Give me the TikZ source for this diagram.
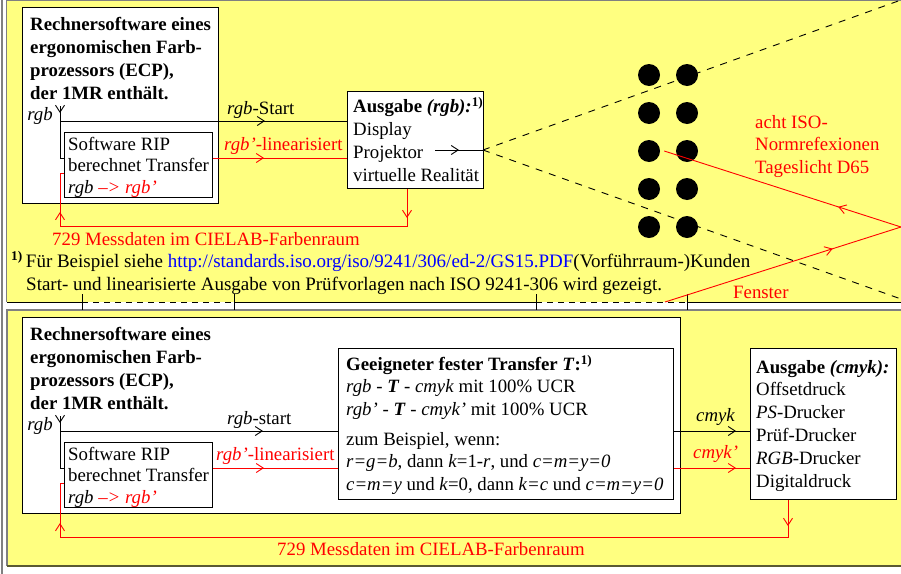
\documentclass[tikz,border=0pt]{standalone}
\usepackage{fontspec}
\setmainfont{Liberation Serif}
\usetikzlibrary{arrows.meta,decorations.markings}
\definecolor{panelyellow}{RGB}{255,255,128}
\definecolor{framegray}{RGB}{128,128,128}
\definecolor{shadeolive}{RGB}{90,90,50}
\definecolor{linkblue}{RGB}{0,0,255}
\newcommand{\fsz}[1]{\fontsize{18.8}{#1}\selectfont}
\begin{document}
\begin{tikzpicture}[x=1pt,y=-1pt,
    box/.style={draw,fill=white,line width=1pt,inner sep=0pt,anchor=north west},
    txt/.style={inner sep=0pt,anchor=base west,align=left,font=\fsz{23}},
    dot/.style={circle,fill,inner sep=0pt,minimum size=22pt},
    barb/.style={line width=0.9pt},
    midtip/.style={barb,postaction={decorate},decoration={markings,
        mark=at position #1 with {\arrow{Straight Barb[length=7pt,width=9pt]}}}},
    duotip/.style 2 args={barb,postaction={decorate},decoration={markings,
        mark=at position #1 with {\arrow{Straight Barb[length=7pt,width=9pt]}},
        mark=at position #2 with {\arrow{Straight Barb[length=7pt,width=9pt]}}}}]
    \useasboundingbox (0,0) rectangle (901,573);
    \fill[white] (0,0) rectangle (901,573);
    \fill[panelyellow] (7,0) rectangle (906,302);
    \fill[panelyellow] (7,310) rectangle (906,566);
    \draw[framegray,line width=1.5pt] (2,-2) -- (2,575);
    \draw[framegray,line width=1.2pt] (906,0.6) -- (6.5,0.6) -- (6.5,302);
    \draw[framegray,line width=1.2pt] (906,310) -- (7,310) -- (7,566);
    \draw[shadeolive,line width=1.5pt] (7,566) -- (906,566);
    % panel edge with two windows
    \draw[line width=1pt] (7,302) -- (82,302) (234,302) -- (536,302) (687,302) -- (906,302);
    \draw[line width=1pt,dashed,dash pattern=on 6pt off 5pt] (82,302) -- (234,302) (536,302) -- (687,302);
    \foreach \x in {82,234,536,687}
        \draw[line width=1pt] (\x,294) -- (\x,310);
    % upper part
    \node[box,minimum width=196pt,minimum height=196pt] (ecpA) at (22,7) {};
    \node[txt,font=\fsz{23}\bfseries] (ecpAtxt) at (30,99) {Rechnersoftware eines\\ergonomischen Farb-\\prozessors (ECP),\\der 1MR enthält.};
    \node[box,minimum width=148pt,minimum height=65pt] (ripA) at (64,132) {};
    \node[txt,font=\fsz{21.5}] (ripAtxt) at (68,193) {Software RIP\\berechnet Transfer\\\textit{rgb \textcolor{red}{–> rgb’}}};
    \node[box,minimum width=136pt,minimum height=97pt] (outA) at (347,91) {};
    \node[txt,font=\fsz{22.7}] (outAtxt) at (353,181) {\textbf{Ausgabe \textit{(rgb):}}\textsuperscript{\bfseries 1)}\\Display\\Projektor\\virtuelle Realität};
    \node[txt,anchor=base east,font=\fsz{23}\itshape] (rgbA) at (53,120) {rgb};
    \node[txt] (startA) at (227,114) {\textit{rgb}-Start};
    \node[txt,text=red] (linA) at (224,150) {\textit{rgb’}-linearisiert};
    \node[txt,text=red] (cielabA) at (52,245) {729 Messdaten im CIELAB-Farbenraum};
    \coordinate (inA) at (60,106);
    \coordinate (brA) at (60,121);
    \coordinate (fbA) at (60,226);
    \draw[midtip=7pt] (inA) |- ([yshift=-26pt]ripA.north west);
    \draw[midtip=205pt] (brA) -- ([yshift=-30pt]outA.north west);
    \draw[red,midtip=51pt] ([yshift=-26pt]ripA.north east) -- ([yshift=-67pt]outA.north west);
    \draw[red,duotip={29pt}{398pt}] ([xshift=60pt]outA.south west) |- (fbA) |- ([yshift=-41pt]ripA.north west);
    \coordinate (pjA) at (435,150);
    \coordinate (view) at (483,150);
    \draw[midtip=24pt] (pjA) -- (view);
    \draw[line width=0.9pt,dash pattern=on 7pt off 7pt] (view) -- (901,0);
    \draw[line width=0.9pt,dash pattern=on 7pt off 7pt] (view) -- (901,299);
    \foreach \r/\y in {1/75,2/113,3/151,4/189,5/227} {
        \node[dot] (dotL\r) at (649,\y) {};
        \node[dot] (dotR\r) at (687,\y) {};
    }
    \coordinate (winpt) at (665,302);
    \coordinate (refl) at (901,227);
    \draw[red,midtip=176pt] (winpt) -- (refl);
    \draw[red,midtip=66pt] (refl) -- ([xshift=4pt]dotL3.east);
    \node[txt,text=red,font=\fsz{22.5}] (isoTxt) at (755,173) {acht ISO-\\Normrefexionen\\Tageslicht D65};
    \node[txt,text=red] (fenster) at (733,298) {Fenster};
    \node[txt,font=\fontsize{19}{23}\selectfont] (noteA) at (11,267) {\textsuperscript{\bfseries 1)}\,Für Beispiel siehe \textcolor{linkblue}{http://standards.iso.org/iso/9241/306/ed-2/GS15.PDF}(Vorführraum-)Kunden};
    \node[txt,font=\fontsize{19}{23}\selectfont] (noteB) at (26,290) {Start- und linearisierte Ausgabe von Prüfvorlagen nach ISO 9241-306 wird gezeigt.};
    % lower part
    \node[box,minimum width=658pt,minimum height=196pt] (ecpB) at (22,317) {};
    \node[txt,font=\fsz{23}\bfseries] (ecpBtxt) at (30,409) {Rechnersoftware eines\\ergonomischen Farb-\\prozessors (ECP),\\der 1MR enthält.};
    \node[box,minimum width=148pt,minimum height=65pt] (ripB) at (64,442) {};
    \node[txt,font=\fsz{21.5}] (ripBtxt) at (68,503) {Software RIP\\berechnet Transfer\\\textit{rgb \textcolor{red}{–> rgb’}}};
    \node[box,minimum width=335pt,minimum height=151pt] (trans) at (338,348) {};
    \node[txt,font=\fsz{22.3}] (transtxt) at (346,490) {\textbf{Geeigneter fester Transfer \textit{T}:}\textsuperscript{\bfseries 1)}\\
        \textit{rgb} - \textbf{\textit{T}} - \textit{cmyk} mit 100\% UCR\\
        \textit{rgb’} - \textbf{\textit{T}} - \textit{cmyk’} mit 100\% UCR\\[8pt]
        zum Beispiel, wenn:\\
        \textit{r=g=b}, dann \textit{k}=1-\textit{r}, und \textit{c=m=y=0}\\
        \textit{c=m=y} und \textit{k}=0, dann \textit{k=c} und \textit{c=m=y=0}};
    \node[box,minimum width=146pt,minimum height=151pt] (outC) at (750,348) {};
    \node[txt,font=\fsz{22.8}] (outCtxt) at (756,487) {\textbf{Ausgabe \textit{(cmyk):}}\\Offsetdruck\\\textit{PS}-Drucker\\Prüf-Drucker\\\textit{RGB}-Drucker\\Digitaldruck};
    \node[txt,anchor=base east,font=\fsz{23}\itshape] (rgbB) at (53,430) {rgb};
    \node[txt] (startB) at (227,424) {\textit{rgb}-start};
    \node[txt,text=red] (linB) at (216,460) {\textit{rgb’}-linearisiert};
    \node[txt] (cmykTxt) at (696,421) {\textit{cmyk}};
    \node[txt,text=red] (cmykpTxt) at (693,458) {\textit{cmyk’}};
    \node[txt,text=red] (cielabB) at (277,555) {729 Messdaten im CIELAB-Farbenraum};
    \coordinate (inB) at (60,416);
    \coordinate (brB) at (60,431);
    \coordinate (fbB) at (60,537);
    \draw[midtip=7pt] (inB) |- ([yshift=-26pt]ripB.north west);
    \draw[midtip=203pt] (brB) -- ([yshift=-83pt]trans.north west);
    \draw[red,midtip=51pt] ([yshift=-26pt]ripB.north east) -- ([yshift=-120pt]trans.north west);
    \draw[midtip=62pt] ([yshift=-83pt]trans.north east) -- ([yshift=-83pt]outC.north west);
    \draw[red,midtip=62pt] ([yshift=-120pt]trans.north east) -- ([yshift=-120pt]outC.north west);
    \draw[red,duotip={26pt}{779pt}] ([xshift=38pt]outC.south west) |- (fbB) |- ([yshift=-41pt]ripB.north west);
\end{tikzpicture}
\end{document}
